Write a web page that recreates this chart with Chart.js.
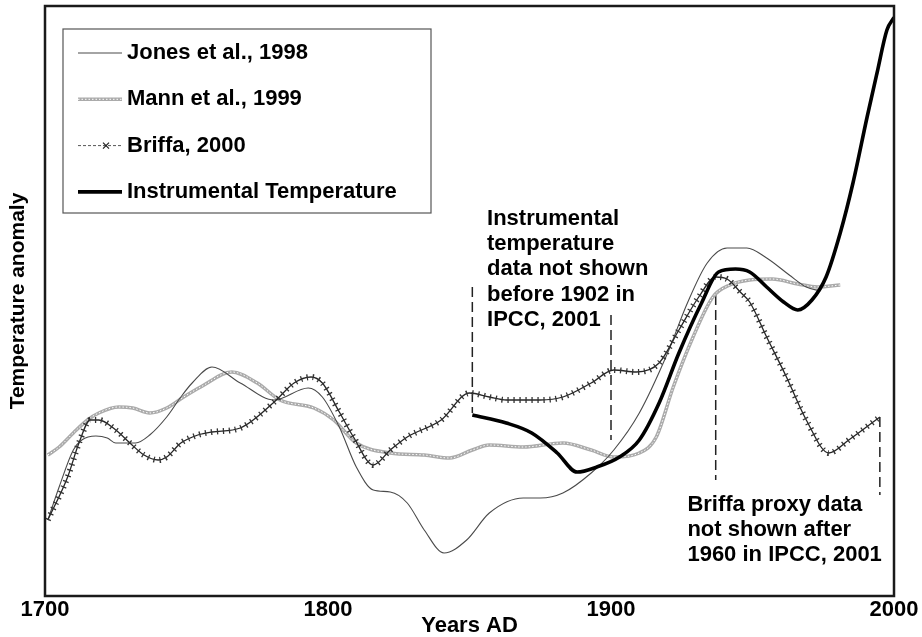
<!DOCTYPE html>
<html><head><meta charset="utf-8">
<script src="https://cdn.jsdelivr.net/npm/chart.js@4.4.1/dist/chart.umd.min.js"></script>
<style>html,body{margin:0;padding:0;background:#fff;}#wrap{width:922px;height:637px;}</style>
</head><body><div id="wrap"><canvas id="c" width="922" height="637"></canvas></div>
<script>
// ---- data (temperature anomaly, arbitrary units) ----
const jonesYears  = [1701,1705,1710,1713,1718,1722,1725,1732,1737,1743,1748,1752,1759,1769,1781,1793,1798,1804,1810,1816,1822,1828,1834,1841,1849,1857,1869,1875,1883,1893,1901,1910,1920,1927,1934,1941,1948,1955,1963,1969,1974];
const jonesValues = [-0.08,0.052,0.20,0.24,0.256,0.248,0.228,0.228,0.26,0.332,0.412,0.468,0.532,0.468,0.40,0.448,0.412,0.292,0.132,0.04,0.032,-0.012,-0.12,-0.212,-0.16,-0.052,0.008,0.008,0.028,0.108,0.20,0.348,0.588,0.788,0.948,1.008,1.008,0.968,0.90,0.852,0.836];

const mannYears  = [1701,1705,1710,1715,1719,1726,1731,1737,1743,1749,1755,1766,1775,1783,1795,1802,1810,1822,1834,1843,1851,1857,1869,1883,1893,1901,1910,1916,1922,1929,1936,1942,1949,1957,1966,1973,1981];
const mannValues = [0.18,0.212,0.268,0.32,0.348,0.372,0.368,0.348,0.368,0.412,0.452,0.512,0.468,0.40,0.368,0.32,0.228,0.188,0.18,0.168,0.20,0.22,0.212,0.228,0.20,0.172,0.188,0.252,0.452,0.652,0.812,0.86,0.88,0.884,0.864,0.852,0.86];

const briffaYears  = [1701,1708,1712,1716,1719,1725,1730,1735,1740,1743,1748,1754,1759,1769,1781,1788,1794,1798,1804,1809,1816,1822,1828,1840,1850,1857,1863,1875,1883,1893,1901,1909,1917,1924,1931,1937,1941,1946,1949,1955,1962,1969,1977,1984,1995];
const briffaValues = [-0.08,0.092,0.228,0.32,0.32,0.28,0.228,0.18,0.16,0.172,0.228,0.26,0.272,0.288,0.392,0.468,0.492,0.468,0.352,0.252,0.14,0.20,0.252,0.32,0.428,0.412,0.40,0.40,0.412,0.468,0.52,0.512,0.548,0.68,0.812,0.892,0.884,0.828,0.792,0.652,0.492,0.32,0.188,0.24,0.332];

const instrYears  = [1851,1863,1872,1881,1888,1895,1903,1910,1917,1924,1932,1938,1944,1949,1955,1961,1966,1971,1976,1981,1985.5,1990.5,1994,1997.5,2000];
const instrValues = [0.34,0.308,0.268,0.188,0.112,0.132,0.172,0.24,0.388,0.588,0.788,0.912,0.924,0.912,0.852,0.792,0.76,0.80,0.892,1.068,1.268,1.532,1.708,1.88,1.93];

// dashed cut-off markers
const cutoffYears  = [1851,1900,1937,1995];
const cutoffTops   = [0.852,0.74,0.82,0.332];
const cutoffBottoms= [0.348,0.24,0.08,0.02];

const seriesLabels = ['Jones et al., 1998','Mann et al., 1999','Briffa, 2000','Instrumental Temperature'];
const tickYears = [1700,1800,1900,2000];
const noteInstrumental = ['Instrumental','temperature','data not shown','before 1902 in','IPCC, 2001'];
const noteBriffa = ['Briffa proxy data','not shown after','1960 in IPCC, 2001'];

// ---- build ----
const pts = (xs, ys) => xs.map((x, i) => ({x, y: ys[i]}));
const cutoffPts = [];
cutoffYears.forEach((yr, i) => { cutoffPts.push({x: yr, y: cutoffTops[i]}, {x: yr, y: cutoffBottoms[i]}, {x: yr, y: null}); });

const FONT = '"Liberation Sans", Arial, Helvetica, sans-serif';
const styles = {
  jones: {color: '#4a4a4a', width: 1.1},
  mann: {color: '#ababab', width: 3.5},
  briffa: {color: '#262626', width: 1.3},
  instr: {color: '#000', width: 3.6}
};

const base = {pointRadius: 0, fill: false, cubicInterpolationMode: 'monotone', spanGaps: false};
const datasets = [
  Object.assign({}, base, {label: seriesLabels[3], data: pts(instrYears, instrValues), borderColor: styles.instr.color, borderWidth: styles.instr.width, order: 1}),
  Object.assign({}, base, {label: seriesLabels[2] + ' markers', data: pts(briffaYears, briffaValues), borderColor: '#333', borderWidth: 6, borderDash: [1.3, 4.7], order: 2}),
  Object.assign({}, base, {label: seriesLabels[2], data: pts(briffaYears, briffaValues), borderColor: styles.briffa.color, borderWidth: styles.briffa.width, order: 3}),
  Object.assign({}, base, {label: seriesLabels[0], data: pts(jonesYears, jonesValues), borderColor: styles.jones.color, borderWidth: styles.jones.width, order: 4}),
  Object.assign({}, base, {label: seriesLabels[1] + ' dots', data: pts(mannYears, mannValues), borderColor: '#ffffff', borderWidth: 1, borderDash: [1.5, 2], order: 5}),
  Object.assign({}, base, {label: seriesLabels[1], data: pts(mannYears, mannValues), borderColor: styles.mann.color, borderWidth: styles.mann.width, order: 6}),
  {label: 'cutoffs', data: cutoffPts, borderColor: '#222', borderWidth: 1.5, borderDash: [10, 5], pointRadius: 0, tension: 0, spanGaps: false, order: 7}
];

const decor = {
  id: 'decor',
  afterDatasetsDraw(chart) {
    const {ctx, chartArea: a, scales: {x, y}} = chart;
    ctx.save();
    // plot frame
    ctx.strokeStyle = '#1a1a1a'; ctx.lineWidth = 2.5; ctx.setLineDash([]);
    ctx.strokeRect(a.left, a.top, a.right - a.left, a.bottom - a.top);
    // notes
    ctx.fillStyle = '#000';
    ctx.font = 'bold 22px ' + FONT;
    ctx.textAlign = 'left'; ctx.textBaseline = 'middle';
    const drawNote = (lines, yr, val) => {
      const px = x.getPixelForValue(yr), py = y.getPixelForValue(val);
      lines.forEach((t, i) => ctx.fillText(t, px, py + i * 25.2));
    };
    drawNote(noteInstrumental, 1856.2, 1.124);
    drawNote(noteBriffa, 1927.0, -0.02);
    // legend
    const lx = a.left + 18, ly = a.top + 23, lw = 368, lh = 184;
    ctx.fillStyle = '#fff'; ctx.fillRect(lx, ly, lw, lh);
    ctx.strokeStyle = '#555'; ctx.lineWidth = 1.2; ctx.strokeRect(lx, ly, lw, lh);
    const x0 = lx + 15, x1 = lx + 59;
    const line = (cy, color, w, dash) => { ctx.beginPath(); ctx.setLineDash(dash || []); ctx.strokeStyle = color; ctx.lineWidth = w; ctx.moveTo(x0, cy); ctx.lineTo(x1, cy); ctx.stroke(); ctx.setLineDash([]); };
    const rows = [0, 1, 2, 3].map(i => ly + 24 + i * 46.3);
    line(rows[0], styles.jones.color, styles.jones.width);
    line(rows[1], styles.mann.color, 3.5); line(rows[1], '#fff', 1, [1.5, 2]);
    line(rows[2], '#555', 1, [3, 2]);
    const mx = (x0 + x1) / 2 + 6; ctx.beginPath(); ctx.strokeStyle = '#222'; ctx.lineWidth = 1.2;
    ctx.moveTo(mx - 3, rows[2] - 3); ctx.lineTo(mx + 3, rows[2] + 3); ctx.moveTo(mx - 3, rows[2] + 3); ctx.lineTo(mx + 3, rows[2] - 3); ctx.stroke();
    line(rows[3], styles.instr.color, styles.instr.width);
    ctx.fillStyle = '#000'; ctx.font = 'bold 22px ' + FONT;
    seriesLabels.forEach((t, i) => ctx.fillText(t, x1 + 5, rows[i]));
    ctx.restore();
  }
};

new Chart(document.getElementById('c'), {
  type: 'line',
  data: {datasets},
  options: {
    responsive: false, animation: false, devicePixelRatio: 1,
    layout: {padding: {top: 6, right: 28, bottom: 0, left: 0}},
    plugins: {legend: {display: false}, tooltip: {enabled: false}},
    scales: {
      x: {
        type: 'linear', min: 1700, max: 2000,
        grid: {display: false, drawTicks: false}, border: {display: false},
        afterBuildTicks: s => { s.ticks = tickYears.map(v => ({value: v})); },
        afterFit: s => { s.height = 41; },
        ticks: {color: '#000', padding: 1, maxRotation: 0, autoSkip: false, font: {family: FONT, size: 22, weight: 'bold'}, callback: v => String(v)},
        title: {display: true, text: 'Years AD', color: '#000', padding: {top: 0, bottom: -2}, font: {family: FONT, size: 22, weight: 'bold', lineHeight: 1.2}}
      },
      y: {
        min: -0.384, max: 1.976,
        grid: {display: false, drawTicks: false}, border: {display: false},
        ticks: {display: false},
        afterFit: s => { s.width = 45; },
        title: {display: true, text: 'Temperature anomaly', color: '#000', padding: {top: 6, bottom: 0}, font: {family: FONT, size: 21, weight: 'bold', lineHeight: 1.2}}
      }
    }
  },
  plugins: [decor]
});
</script></body></html>
